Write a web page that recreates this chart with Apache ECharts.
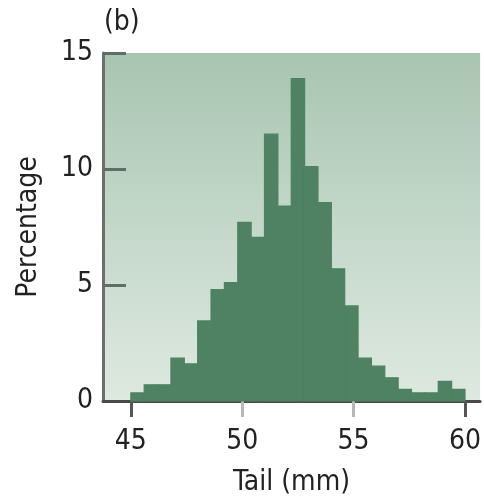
<!DOCTYPE html>
<html>
<head>
<meta charset="utf-8">
<script src="https://cdn.jsdelivr.net/npm/echarts@6/dist/echarts.min.js"></script>
<style>
  html, body { margin: 0; padding: 0; background: #ffffff; }
  #chart { width: 484px; height: 502px; }
</style>
</head>
<body>
<div id="chart"></div>
<script>
// Tail length histogram: 0.6 mm bins from 45 to 60 mm
const binEdges = [45.0, 45.6, 46.2, 46.8, 47.4, 48.0, 48.6, 49.2, 49.8, 50.4,
                  51.0, 51.6, 52.2, 52.8, 53.4, 54.0, 54.6, 55.2, 55.8, 56.4,
                  57.0, 57.6, 58.2, 58.8, 59.4, 60.0];
const percentages = [0.35, 0.7, 0.7, 1.85, 1.6, 3.45, 4.8, 5.1, 7.7, 7.05,
                     11.5, 8.4, 13.9, 10.1, 8.55, 5.7, 4.1, 1.85, 1.5, 1.0,
                     0.5, 0.35, 0.35, 0.85, 0.5];
const xTicksMain = [45, 60];
const xTicksInner = [50, 55];
const xTickLabels = [45, 50, 55, 60];
const yTicks = [0, 5, 10, 15];

const FONT = '"DejaVu Sans Condensed", "Liberation Sans", sans-serif';
const TEXT = '#222222';

const binData = percentages.map((v, i) => [binEdges[i], binEdges[i + 1], v]);

const chart = echarts.init(document.getElementById('chart'), null, { renderer: 'canvas' });

const xBase = {
  type: 'value',
  min: 43.75,
  max: 60.68,
  position: 'bottom',
  splitLine: { show: false }
};

chart.setOption({
  animation: false,
  grid: {
    left: 103, right: 1, top: 53, bottom: 100,
    show: true,
    borderWidth: 0,
    backgroundColor: new echarts.graphic.LinearGradient(0, 0, 0, 1, [
      { offset: 0, color: '#a8c5b1' },
      { offset: 0.5, color: '#c4d8ca' },
      { offset: 1, color: '#dee9e0' }
    ])
  },
  xAxis: [
    Object.assign({}, xBase, {
      axisLine: { show: true, onZero: false, lineStyle: { color: '#4a4a4a', width: 3 } },
      axisTick: { show: true, inside: false, length: 16, customValues: xTicksMain,
                  lineStyle: { color: '#555555', width: 3 } },
      axisLabel: { show: true, customValues: xTickLabels, margin: 27,
                   fontFamily: FONT, fontSize: 28, color: TEXT },
      name: 'Tail (mm)',
      nameLocation: 'middle',
      nameGap: 68,
      nameTextStyle: { fontFamily: FONT, fontSize: 28, color: TEXT }
    }),
    Object.assign({}, xBase, {
      axisLine: { show: false },
      axisTick: { show: true, inside: false, length: 16, customValues: xTicksInner,
                  lineStyle: { color: '#b8b8b8', width: 3 } },
      axisLabel: { show: false }
    })
  ],
  yAxis: {
    type: 'value',
    min: 0, max: 15, interval: 5,
    axisLine: { show: true, onZero: false, lineStyle: { color: '#6e6e6e', width: 3 } },
    axisTick: { show: true, inside: true, length: 23, customValues: [5, 10, 15],
                lineStyle: { color: '#5f6f65', width: 3 } },
    axisLabel: { customValues: yTicks, margin: 10, fontFamily: FONT, fontSize: 28, color: TEXT },
    splitLine: { show: false },
    name: 'Percentage',
    nameLocation: 'middle',
    nameGap: 60,
    nameRotate: 90,
    nameTextStyle: { fontFamily: FONT, fontSize: 28, color: TEXT }
  },
  graphic: [{
    type: 'text',
    left: 104, top: 9,
    style: { text: '(b)', font: '28px ' + FONT, fill: TEXT }
  }],
  series: [{
    type: 'custom',
    xAxisIndex: 0,
    data: binData,
    encode: { x: [0, 1], y: 2 },
    renderItem: function (params, api) {
      const p0 = api.coord([api.value(0), 0]);
      const p1 = api.coord([api.value(1), api.value(2)]);
      return {
        type: 'rect',
        shape: { x: p0[0], y: p1[1], width: p1[0] - p0[0], height: p0[1] - p1[1] },
        style: { fill: '#4e8262', stroke: '#4e8262', lineWidth: 1.2 }
      };
    },
    z: 1
  }]
});
</script>
</body>
</html>
